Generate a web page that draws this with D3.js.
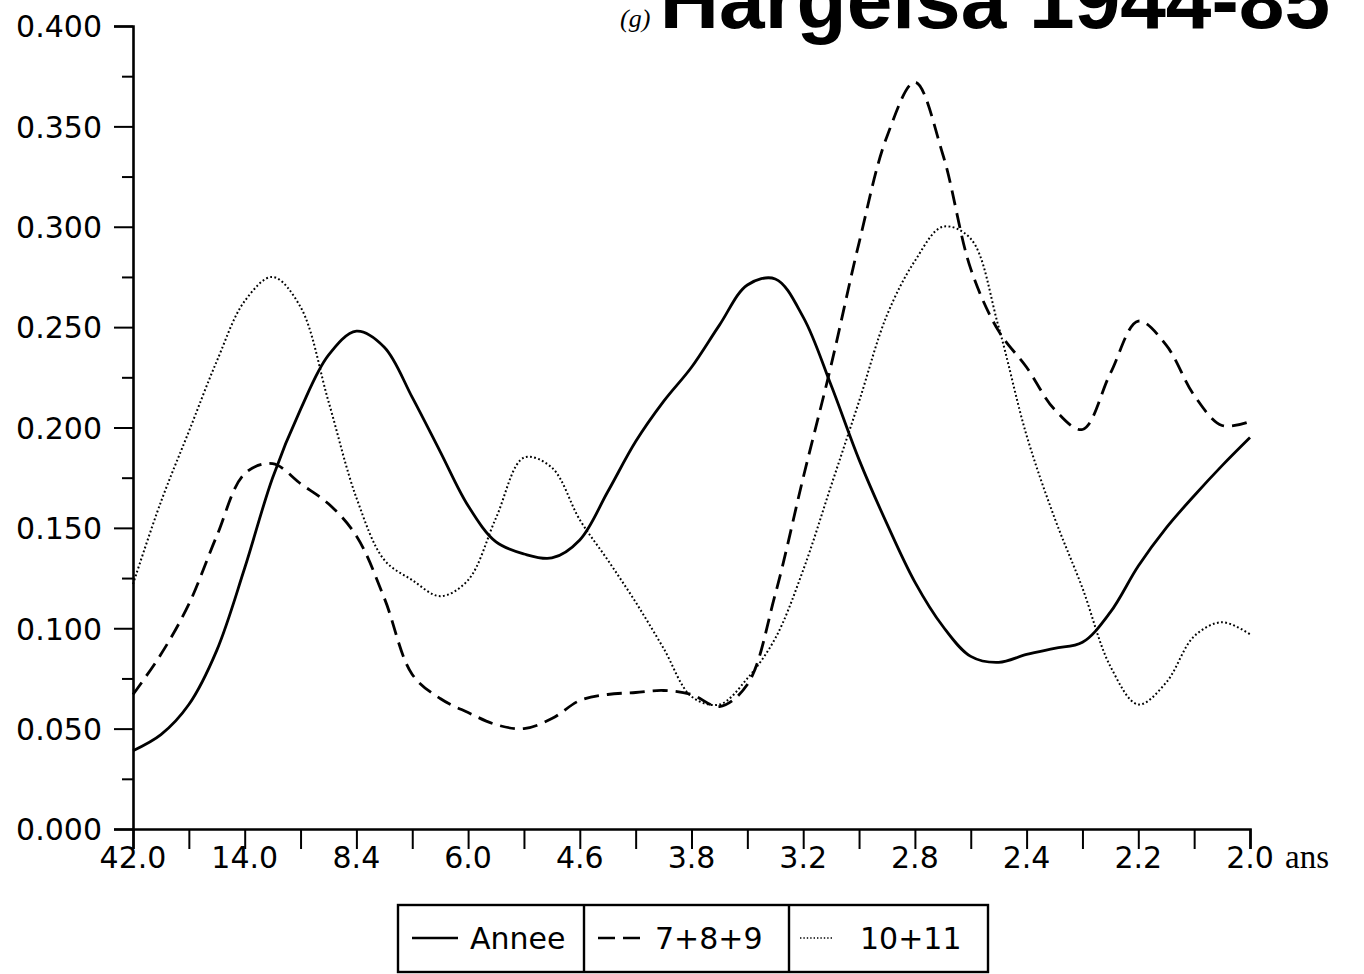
<!DOCTYPE html>
<html>
<head>
<meta charset="utf-8">
<script src="https://cdn.jsdelivr.net/npm/d3@7"></script>
<style>
  html, body { margin: 0; padding: 0; background: #fff; }
  svg { display: block; }
</style>
</head>
<body>
<svg id="chart" width="1364" height="974"></svg>
<script>
// ---- data ----
// harmonic index (frequency k/84), from 2 to 42
const harmonics = [2,3,4,5,6,7,8,9,10,11,12,13,14,15,16,17,18,19,20,21,22,23,24,25,26,27,28,29,30,31,32,33,34,35,36,37,38,39,40,41,42];
const tickHarmonics = [2,6,10,14,18,22,26,30,34,38,42];
const tickLabels = ["42.0","14.0","8.4","6.0","4.6","3.8","3.2","2.8","2.4","2.2","2.0"];
const yTickValues = [0,0.05,0.1,0.15,0.2,0.25,0.3,0.35,0.4];
const yMinorValues = [0.025,0.075,0.125,0.175,0.225,0.275,0.325,0.375];

const annee = [0.039,0.047,0.062,0.089,0.130,0.175,0.209,0.236,0.248,0.240,0.215,0.188,0.161,0.143,0.137,0.135,0.144,0.168,0.193,0.213,0.230,0.251,0.271,0.274,0.255,0.221,0.184,0.152,0.123,0.101,0.086,0.083,0.087,0.090,0.093,0.108,0.131,0.150,0.166,0.181,0.195];
const s789 = [0.067,0.087,0.112,0.146,0.177,0.182,0.172,0.162,0.146,0.115,0.077,0.065,0.058,0.052,0.050,0.055,0.064,0.067,0.068,0.069,0.067,0.061,0.072,0.117,0.175,0.231,0.292,0.345,0.372,0.336,0.279,0.248,0.230,0.209,0.199,0.227,0.253,0.241,0.216,0.201,0.203];
const s1011 = [0.122,0.163,0.198,0.233,0.263,0.275,0.260,0.213,0.165,0.134,0.124,0.116,0.124,0.155,0.185,0.180,0.154,0.134,0.113,0.090,0.066,0.062,0.075,0.095,0.129,0.171,0.213,0.256,0.283,0.300,0.294,0.250,0.196,0.155,0.120,0.081,0.062,0.073,0.096,0.103,0.097];

const seriesNames = ["Annee","7+8+9","10+11"];

// ---- layout ----
const svg = d3.select("#chart");
const pLeft = 133, pRight = 1250, pTop = 26, pBottom = 829;
const x = d3.scaleLinear().domain([2, 42]).range([pLeft, pRight]);
const y = d3.scaleLinear().domain([0, 0.4]).range([pBottom, pTop]);
const numFont = "'DejaVu Sans', sans-serif";

const styles = [
  { width: 2.8, dash: null },
  { width: 2.8, dash: "15,8" },
  { width: 2, dash: "1.8,2.4" }
];

// y axis
const yAxis = d3.axisLeft(y).tickValues(yTickValues).tickSize(19).tickPadding(12).tickFormat(d3.format(".3f"));
const gy = svg.append("g").attr("transform", `translate(${pLeft},0)`).call(yAxis);
gy.select(".domain").attr("stroke", "#000").attr("stroke-width", 2.6);
gy.selectAll(".tick line").attr("stroke", "#000").attr("stroke-width", 2);
gy.selectAll(".tick text").attr("font-family", numFont).attr("font-size", 30).attr("fill", "#000").attr("dy", "0.36em");
const gyMinor = svg.append("g").attr("transform", `translate(${pLeft},0)`)
  .call(d3.axisLeft(y).tickValues(yMinorValues).tickSize(11).tickFormat(""));
gyMinor.select(".domain").remove();
gyMinor.selectAll(".tick line").attr("stroke", "#000").attr("stroke-width", 2);

// x axis
const gx = svg.append("g").attr("transform", `translate(0,${pBottom})`)
  .call(d3.axisBottom(x).tickValues(harmonics.filter(h => h % 2 === 0)).tickSize(20).tickFormat(""));
gx.select(".domain").attr("stroke", "#000").attr("stroke-width", 2.6);
gx.selectAll(".tick line").attr("stroke", "#000").attr("stroke-width", 2);

svg.append("g").selectAll("text").data(tickHarmonics).join("text")
  .attr("x", d => x(d)).attr("y", 868)
  .attr("text-anchor", "middle")
  .attr("font-family", numFont).attr("font-size", 30).attr("fill", "#000")
  .text((d, i) => tickLabels[i]);

svg.append("text").attr("x", 1285).attr("y", 868)
  .attr("font-family", "'Liberation Serif', serif").attr("font-size", 33).attr("fill", "#000")
  .text("ans");

// lines
const line = d3.line().x((d, i) => x(harmonics[i])).y(d => y(d)).curve(d3.curveCatmullRom.alpha(0.5));
[annee, s789, s1011].forEach((vals, i) => {
  svg.append("path").datum(vals)
    .attr("d", line)
    .attr("fill", "none")
    .attr("stroke", "#000")
    .attr("stroke-width", styles[i].width)
    .attr("stroke-dasharray", styles[i].dash)
    .attr("stroke-linecap", "butt");
});

// title (clipped at top, as in the original)
svg.append("text").attr("x", 1330).attr("y", 28)
  .attr("text-anchor", "end")
  .attr("font-family", "'Liberation Sans', Arial, sans-serif").attr("font-weight", "bold")
  .attr("font-size", 82).attr("fill", "#000")
  .text("Hargeisa 1944-85");
svg.append("text").attr("x", 620).attr("y", 27)
  .attr("text-anchor", "start")
  .attr("font-family", "'Liberation Serif', serif").attr("font-style", "italic")
  .attr("font-size", 26).attr("fill", "#000")
  .text("(g)");

// legend
const legX = [398, 584, 789, 988];
const legTop = 905, legBot = 972;
const lg = svg.append("g");
lg.append("rect").attr("x", legX[0]).attr("y", legTop).attr("width", legX[3] - legX[0]).attr("height", legBot - legTop)
  .attr("fill", "none").attr("stroke", "#000").attr("stroke-width", 2.4);
[legX[1], legX[2]].forEach(xx => lg.append("line").attr("x1", xx).attr("x2", xx).attr("y1", legTop).attr("y2", legBot)
  .attr("stroke", "#000").attr("stroke-width", 2.4));
const legSamples = [[412, 458], [598, 642], [800, 832]];
const legText = [470, 655, 860];
seriesNames.forEach((name, i) => {
  lg.append("line").attr("x1", legSamples[i][0]).attr("x2", legSamples[i][1]).attr("y1", 938).attr("y2", 938)
    .attr("stroke", "#000").attr("stroke-width", i === 2 ? 1.6 : 2.4)
    .attr("stroke-dasharray", i === 1 ? "17,8" : (i === 2 ? "1.4,2" : null));
  lg.append("text").attr("x", legText[i]).attr("y", 949)
    .attr("font-family", numFont).attr("font-size", 30).attr("fill", "#000")
    .text(name);
});
</script>
</body>
</html>
